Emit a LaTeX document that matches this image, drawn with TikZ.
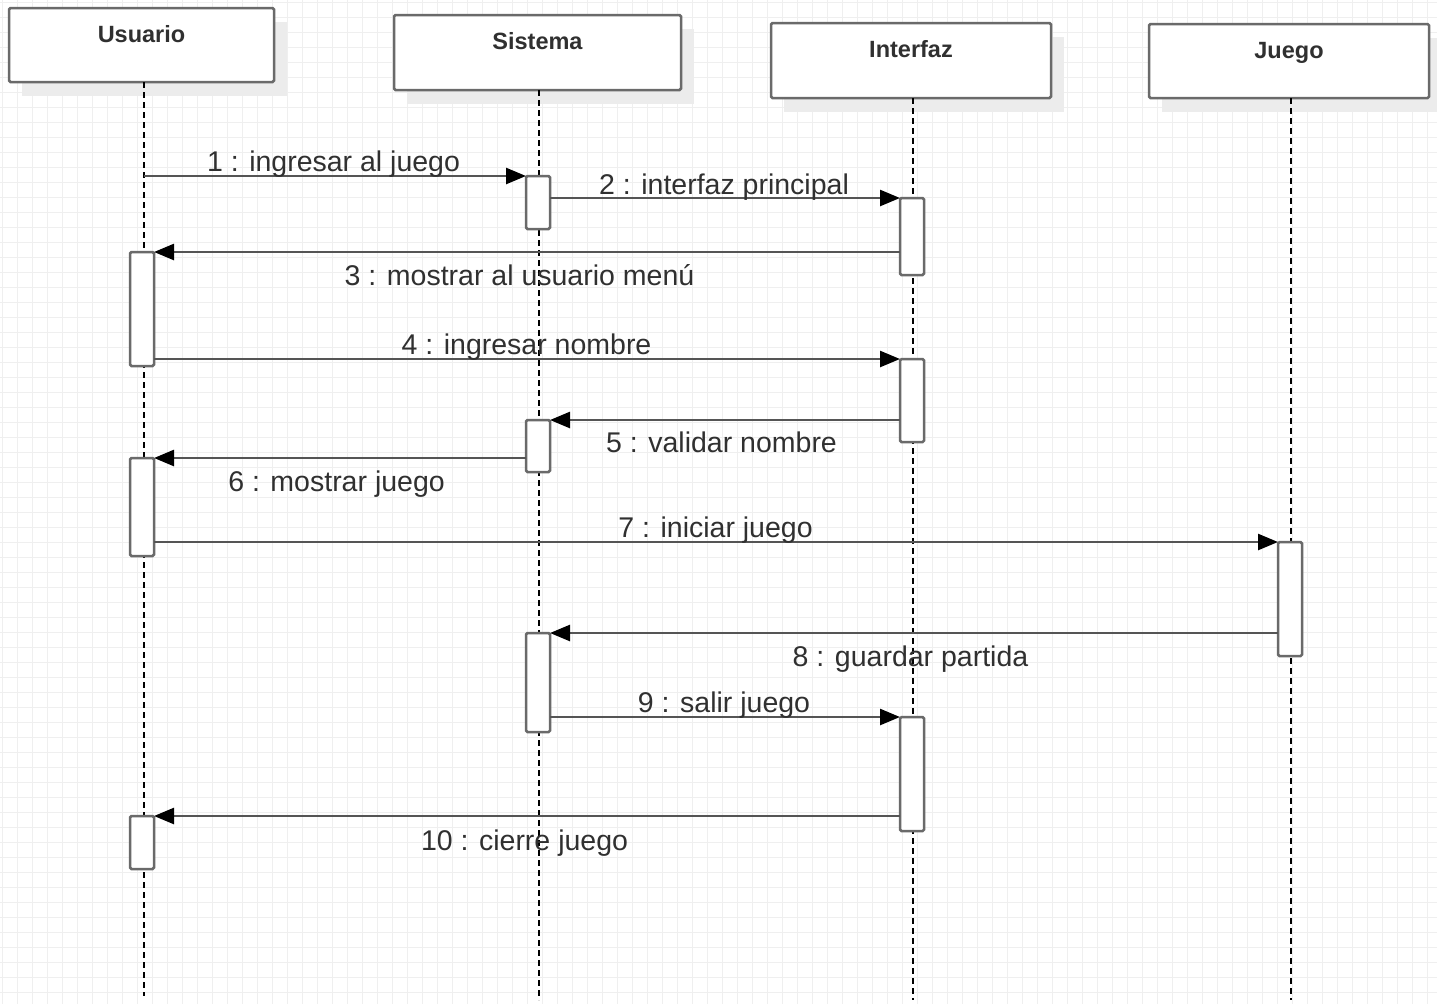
\documentclass[tikz,border=0pt]{standalone}
\usepackage{fontspec}
\setmainfont{Liberation Sans}
\usetikzlibrary{arrows.meta}
\definecolor{gridc}{HTML}{EFEFEF}
\definecolor{shadowc}{HTML}{ECECEC}
\definecolor{framec}{HTML}{6A6A6A}
\definecolor{msgc}{HTML}{555555}
\definecolor{textc}{HTML}{303030}
\tikzset{
  head/.style={draw=framec, line width=2.5pt, fill=white, rounded corners=1.5pt, inner sep=0pt, outer sep=0pt},
  headtext/.style={font=\bfseries\fontsize{23.5}{26}\selectfont, text=textc, anchor=base, inner sep=0pt},
  lifeline/.style={line width=1.8pt, dash pattern=on 6pt off 4pt, black},
  actbar/.style={draw=framec, line width=2.5pt, fill=white, rounded corners=1.5pt, inner sep=0pt, outer sep=0pt, minimum width=24pt, anchor=north},
  msg/.style={draw=msgc, line width=2.5pt, -{Triangle[length=20pt,width=16pt,color=black]}},
  msglabel/.style={font=\fontsize{28.5}{30}\selectfont, text=textc, anchor=base, inner sep=0pt},
}
\begin{document}
\begin{tikzpicture}[x=1pt,y=-1pt]
\useasboundingbox (0,0) rectangle (1437,1004);
\fill[white] (0,0) rectangle (1437,1004);
% background grid
\foreach \g in {2,17,...,1437} \draw[gridc, line width=1pt] (\g,0) -- (\g,1004);
\foreach \g in {2,17,...,1004} \draw[gridc, line width=1pt] (0,\g) -- (1437,\g);

% lifeline heads with their drop shadows
\foreach \x/\y/\w/\h in {9/8/265/74, 394/15/287/75, 771/23/280/75, 1149/24/280/74}
  \fill[shadowc] (\x+13,\y+14) rectangle (\x+\w+13,\y+\h+14);
\path[head] (9,8) rectangle (274,82);
\path[head] (394,15) rectangle (681,90);
\path[head] (771,23) rectangle (1051,98);
\path[head] (1149,24) rectangle (1429,98);
\node[headtext] (uh) at (141.5,42) {Usuario};
\node[headtext] (sh) at (537.5,49) {Sistema};
\node[headtext] (ih) at (911,57) {Interfaz};
\node[headtext] (jh) at (1289,58) {Juego};

% lifelines
\coordinate (ut) at (144,82);  \coordinate (ubot) at (144,996);
\coordinate (st) at (539,90);  \coordinate (sbot) at (539,1000);
\coordinate (it) at (913,98);  \coordinate (ibot) at (913,1000);
\coordinate (jt) at (1291,98); \coordinate (jbot) at (1291,1000);
\draw[lifeline] (ut) -- (ubot);
\draw[lifeline] (st) -- (sbot);
\draw[lifeline] (it) -- (ibot);
\draw[lifeline] (jt) -- (jbot);

% activation bars
\node[actbar, minimum height=53pt]  (sb1) at (538,176) {};
\node[actbar, minimum height=77pt]  (ib1) at (912,198) {};
\node[actbar, minimum height=114pt] (ub1) at (142,252) {};
\node[actbar, minimum height=83pt]  (ib2) at (912,359) {};
\node[actbar, minimum height=52pt]  (sb2) at (538,420) {};
\node[actbar, minimum height=98pt]  (ub2) at (142,458) {};
\node[actbar, minimum height=114pt] (jb)  at (1290,542) {};
\node[actbar, minimum height=99pt]  (sb3) at (538,633) {};
\node[actbar, minimum height=114pt] (ib3) at (912,717) {};
\node[actbar, minimum height=53pt]  (ub3) at (142,816) {};

% messages
\draw[msg] (ut |- sb1.north) -- (sb1.north west);
\draw[msg] (sb1.east |- ib1.north) -- (ib1.north west);
\draw[msg] (ib1.west |- ub1.north) -- (ub1.north east);
\draw[msg] (ub1.east |- ib2.north) -- (ib2.north west);
\draw[msg] (ib2.west |- sb2.north) -- (sb2.north east);
\draw[msg] (sb2.west |- ub2.north) -- (ub2.north east);
\draw[msg] (ub2.east |- jb.north) -- (jb.north west);
\draw[msg] (jb.west |- sb3.north) -- (sb3.north east);
\draw[msg] (sb3.east |- ib3.north) -- (ib3.north west);
\draw[msg] (ib3.west |- ub3.north) -- (ub3.north east);

% message labels
\node[msglabel] (l1)  at (333.5,171) {1 : ingresar al juego};
\node[msglabel] (l2)  at (724,194)   {2 : interfaz principal};
\node[msglabel] (l3)  at (519.5,285) {3 : mostrar al usuario menú};
\node[msglabel] (l4)  at (526.5,354) {4 : ingresar nombre};
\node[msglabel] (l5)  at (721.5,452) {5 : validar nombre};
\node[msglabel] (l6)  at (336.5,491) {6 : mostrar juego};
\node[msglabel] (l7)  at (715.5,537) {7 : iniciar juego};
\node[msglabel] (l8)  at (910.5,666) {8 : guardar partida};
\node[msglabel] (l9)  at (724,712)   {9 : salir juego};
\node[msglabel] (l10) at (524.5,850) {10 : cierre juego};
\end{tikzpicture}
\end{document}
